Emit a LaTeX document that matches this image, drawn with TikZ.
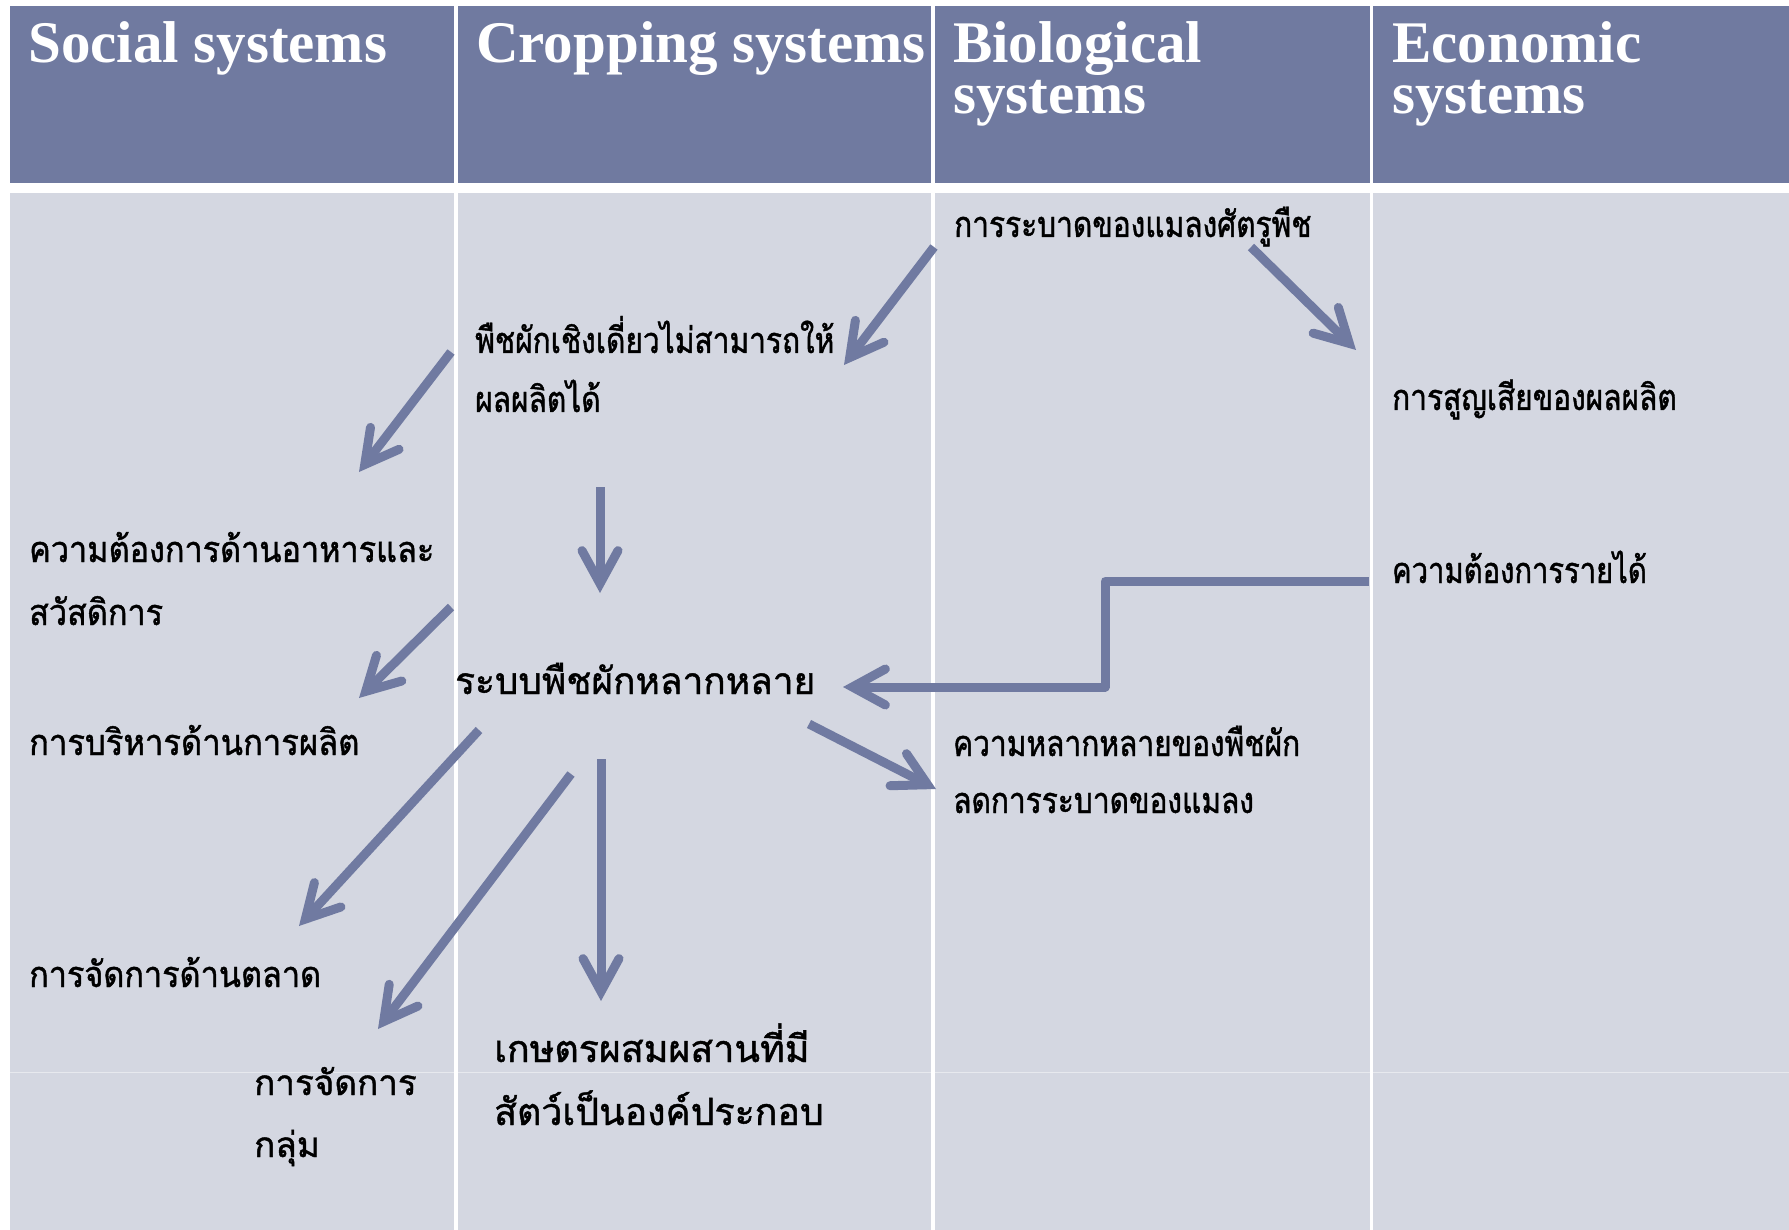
\documentclass[tikz,border=0pt]{standalone}
\usepackage{fontspec}
\setmainfont{Liberation Serif}
\newfontfamily\thaifont[Script=Thai,FakeBold=1.2]{Loma}
\usetikzlibrary{arrows.meta}
\definecolor{headblue}{RGB}{112,122,160}
\definecolor{bodygrey}{RGB}{212,215,225}
\definecolor{arrowblue}{RGB}{112,122,161}
\newcommand\twolines[2]{\begin{tabular}[t]{@{}l@{}}#1\\#2\end{tabular}}
\begin{document}
\begin{tikzpicture}[x=1pt,y=-1pt,
  head/.style={anchor=base west, inner sep=0pt, text=white,
    font=\bfseries\fontsize{59}{51}\selectfont},
  % size, line distance, horizontal stretch
  txt/.style n args={3}{anchor=base west, inner sep=0pt,
    font=\thaifont\fontsize{#1}{#2}\selectfont\addfontfeatures{FakeStretch=#3}},
  flow/.style={draw=arrowblue, line width=9pt, line join=round,
    -{Straight Barb[length=33pt, width=36pt, line cap=round, line join=miter]}},
  headcell/.style={fill=headblue},
  bodycell/.style={fill=bodygrey},
]
% page background and frame size
\fill[white] (0,0) rectangle (1789,1230);
\useasboundingbox (0,0) rectangle (1789,1230);

% table cells: header row and body row
\foreach \xa/\xb in {10/453.5, 457.5/931, 935/1369.5, 1373/1789}{
  \fill[headcell] (\xa,6) rectangle (\xb,183);
  \fill[bodycell] (\xa,193) rectangle (\xb,1230);
}
% faint row boundary
\draw[white, opacity=0.45, line width=1pt] (10,1072) -- (1789,1072);

% column titles
\node[head] (hSocial) at (28,63) {Social systems};
\node[head] (hCrop)   at (476,63) {Cropping systems};
\node[head] (hBio)    at (953,63) {\twolines{Biological}{systems}};
\node[head] (hEcon)   at (1392,63) {\twolines{Economic}{systems}};

% labels
\node[txt={36}{59}{0.83}] (pest)     at (954,237)  {การระบาดของแมลงศัตรูพืช};
\node[txt={36}{59}{0.83}] (mono)     at (475,353)  {\twolines{พืชผักเชิงเดี่ยวไม่สามารถให้}{ผลผลิตได้}};
\node[txt={36}{59}{0.83}] (loss)     at (1392,410) {การสูญเสียของผลผลิต};
\node[txt={36}{63}{0.9}]  (food)     at (29,562)   {\twolines{ความต้องการด้านอาหารและ}{สวัสดิการ}};
\node[txt={36}{59}{0.81}] (income)   at (1392,583) {ความต้องการรายได้};
\node[txt={37}{60}{1}]    (diverse)  at (455,694)  {ระบบพืชผักหลากหลาย};
\node[txt={36}{60}{0.91}] (prodmgmt) at (29,755)   {การบริหารด้านการผลิต};
\node[txt={36}{57}{0.83}] (lesspest) at (953,756)  {\twolines{ความหลากหลายของพืชผัก}{ลดการระบาดของแมลง}};
\node[txt={36}{60}{0.9}]  (market)   at (29,987)   {การจัดการด้านตลาด};
\node[txt={37.5}{63}{1}]  (mixed)    at (494,1062) {\twolines{เกษตรผสมผสานที่มี}{สัตว์เป็นองค์ประกอบ}};
\node[txt={35}{62}{1}]    (group)    at (254,1095) {\twolines{การจัดการ}{กลุ่ม}};

% connector end points
\coordinate (pestL)   at (934,247);
\coordinate (pestR)   at (1251,247);
\coordinate (monoIn)  at (844,365);
\coordinate (lossIn)  at (1356,350);
\coordinate (monoL)   at (451,352);
\coordinate (foodIn)  at (359,472);
\coordinate (monoD)   at (600,487);
\coordinate (divIn)   at (600,593);
\coordinate (foodR)   at (451,607);
\coordinate (prodIn)  at (359,698);
\coordinate (incL)    at (1369,581);
\coordinate (elbow)   at (1105,581);
\coordinate (divR)    at (843,687);
\coordinate (divSE)   at (809,724);
\coordinate (lessIn)  at (936,789);
\coordinate (divSW)   at (479,730);
\coordinate (mktIn)   at (299,926);
\coordinate (divS)    at (571,774);
\coordinate (grpIn)   at (378,1029);
\coordinate (divD)    at (601,759);
\coordinate (mixIn)   at (601,1001);

% connectors
\draw[flow] (pestL) -- (monoIn);
\draw[flow] (pestR) -- (lossIn);
\draw[flow] (monoL) -- (foodIn);
\draw[flow] (monoD) -- (divIn);
\draw[flow] (foodR) -- (prodIn);
\draw[flow] (incL) -- (elbow) |- (divR);
\draw[flow] (divSE) -- (lessIn);
\draw[flow] (divSW) -- (mktIn);
\draw[flow] (divS) -- (grpIn);
\draw[flow] (divD) -- (mixIn);
\end{tikzpicture}
\end{document}
